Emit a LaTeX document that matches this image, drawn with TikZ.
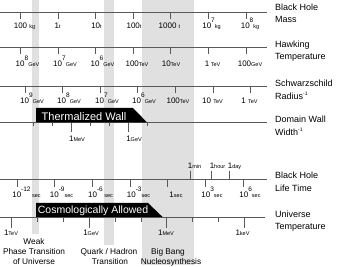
\documentclass[tikz,border=0pt]{standalone}
\usepackage{fontspec}
\setmainfont{Liberation Sans}
\newcommand\un[1]{{\fontsize{5.5}{6}\selectfont #1}}
\newcommand\pw[2]{10\raisebox{6pt}{\fontsize{6.5}{7}\selectfont #1}{\fontsize{5.5}{6}\selectfont #2}}
\begin{document}
\begin{tikzpicture}[x=1pt,y=-1pt,
  axis/.style={draw=black!65, line width=0.9pt},
  lab/.style={font=\fontsize{8}{9}\selectfont, inner sep=0pt, anchor=base},
  side/.style={font=\fontsize{9}{11}\selectfont, inner sep=0pt, anchor=base west},
  bot/.style={font=\fontsize{8.3}{10}\selectfont, inner sep=0pt, anchor=base},
  band/.style={fill=black!12},
  wall/.style={fill=black},
  walltext/.style={text=white, inner sep=0pt, anchor=base}]
\useasboundingbox (0,0) rectangle (338,267);
% gray bands
\fill[band] (32,0) rectangle (39,234);
\fill[band] (104,0) rectangle (114,245);
\fill[band] (142,0) rectangle (194,265);
% ---- Black hole mass
\draw[axis] (0,12) -- (267,12);
\foreach \x in {20,58,95,133,170,208,246} \draw[axis] (\x,12) -- (\x,19);
\node[lab] (m1) at (24.5,28.3) {100 \un{kg}};
\node[lab] (m2) at (57.5,28.3) {1\un{t}};
\node[lab] (m3) at (96.5,28.3) {10\un{t}};
\node[lab] (m4) at (134,28.3) {100\un{t}};
\node[lab] (m5) at (169.5,28.3) {1000 \un{t}};
\node[lab] (m6) at (211.5,28.3) {\pw{7}{kg}};
\node[lab] (m7) at (250,28.3) {\pw{8}{kg}};
\node[side] (r1a) at (275,11) {Black Hole};
\node[side] (r1b) at (275,23) {Mass};
% ---- Hawking temperature
\draw[axis] (0,47) -- (267,47);
\foreach \x in {20,58,95,133,170,208,246} \draw[axis] (\x,47) -- (\x,54);
\node[lab] (h1) at (27.5,66.5) {\pw{8}{GeV}};
\node[lab] (h2) at (65,66.5) {\pw{7}{GeV}};
\node[lab] (h3) at (102.5,66.5) {\pw{6}{GeV}};
\node[lab] (h4) at (137,66.5) {100\un{TeV}};
\node[lab] (h5) at (171,66.5) {10\un{TeV}};
\node[lab] (h6) at (212.5,66.5) {1\un{ TeV}};
\node[lab] (h7) at (250,66.5) {100\un{GeV}};
\node[side] (r2a) at (275,47.5) {Hawking};
\node[side] (r2b) at (275,60) {Temperature};
% ---- Schwarzschild radius
\draw[axis] (0,86) -- (267,86);
\foreach \x in {25,62,100,137,175,213,250} \draw[axis] (\x,86) -- (\x,93);
\node[lab] (s1) at (32,104) {\pw{9}{GeV}};
\node[lab] (s2) at (69,104) {\pw{8}{GeV}};
\node[lab] (s3) at (107,104) {\pw{7}{GeV}};
\node[lab] (s4) at (144,104) {\pw{6}{GeV}};
\node[lab] (s5) at (178,104) {100\un{TeV}};
\node[lab] (s6) at (212.5,104) {10 \un{TeV}};
\node[lab] (s7) at (249.5,104) {1 \un{TeV}};
\node[side] (r3a) at (275,87) {Schwarzschild};
\node[side] (r3b) at (275,99.5) {Radius\raisebox{4pt}{\fontsize{5}{6}\selectfont -1}};
% ---- Domain wall width
\draw[axis] (0,122) -- (267,122);
\foreach \x in {33,52,90,109,147} \draw[axis] (\x,122) -- (\x,126);
\foreach \x in {71,128} \draw[axis] (\x,122) -- (\x,132);
\fill[wall] (36,108) -- (133,108) -- (147,122.4) -- (36,122.4) -- cycle;
\node[walltext, font=\fontsize{11}{12}\selectfont] (tw) at (84,120.3) {Thermalized Wall};
\node[lab] (d1) at (77,141.7) {1\un{MeV}};
\node[lab] (d2) at (134,141.7) {1\un{GeV}};
\node[side] (r4a) at (275,122.5) {Domain Wall};
\node[side] (r4b) at (275,135.5) {Width\raisebox{4pt}{\fontsize{5}{6}\selectfont -1}};
% ---- Black hole life time
\draw[axis] (0,179) -- (267,179);
\foreach \x in {17,54,92,130,167,205,243} \draw[axis] (\x,179) -- (\x,187);
\foreach \x in {190,211,229} \draw[axis] (\x,179) -- (\x,171);
\node[lab] (t1) at (26.5,197.3) {\pw{-12}{ sec}};
\node[lab] (t2) at (61.5,197.3) {\pw{-9}{sec}};
\node[lab] (t3) at (100.5,197.3) {\pw{-6}{ sec}};
\node[lab] (t4) at (138.5,197.3) {\pw{-3}{sec}};
\node[lab] (t5) at (176,197.3) {1\un{sec}};
\node[lab] (t6) at (212,197.3) {\pw{3}{sec}};
\node[lab] (t7) at (250,197.3) {\pw{6}{sec}};
\node[lab] (u1) at (194.5,168.3) {1\un{min}};
\node[lab] (u2) at (217.5,168.3) {1\un{hour}};
\node[lab] (u3) at (234.5,168.3) {1\un{day}};
\node[side] (r5a) at (275,178.5) {Black Hole};
\node[side] (r5b) at (275,191.5) {Life Time};
% ---- Universe temperature
\fill[wall] (36,203) -- (148,203) -- (163,217.4) -- (36,217.4) -- cycle;
\node[walltext, font=\fontsize{10.5}{12}\selectfont] (ca) at (93,214) {Cosmologically Allowed};
\draw[axis] (0,217) -- (265,217);
\foreach \x in {37.5,63.3,115.1,141,192.8,218.7} \draw[axis] (\x,217) -- (\x,222.5);
\foreach \x in {11.5,89.2,166.9,244.6} \draw[axis] (\x,217) -- (\x,228);
\node[lab] (v1) at (11,236) {1\un{TeV}};
\node[lab] (v2) at (91,236) {1\un{GeV}};
\node[lab] (v3) at (166,236) {1\un{MeV}};
\node[lab] (v4) at (242.5,236) {1\un{keV}};
\node[side] (r6a) at (275,217.5) {Universe};
\node[side] (r6b) at (275,229.5) {Temperature};
% ---- bottom labels
\node[bot] (b1) at (34,245) {Weak};
\node[bot] (b2) at (34,255) {Phase Transition};
\node[bot] (b3) at (34,265) {of Universe};
\node[bot] (b4) at (109,255) {Quark / Hadron};
\node[bot] (b5) at (110,265) {Transition};
\node[bot] (b6) at (168,255) {Big Bang};
\node[bot] (b7) at (171,265) {Nucleosynthesis};
\end{tikzpicture}
\end{document}
